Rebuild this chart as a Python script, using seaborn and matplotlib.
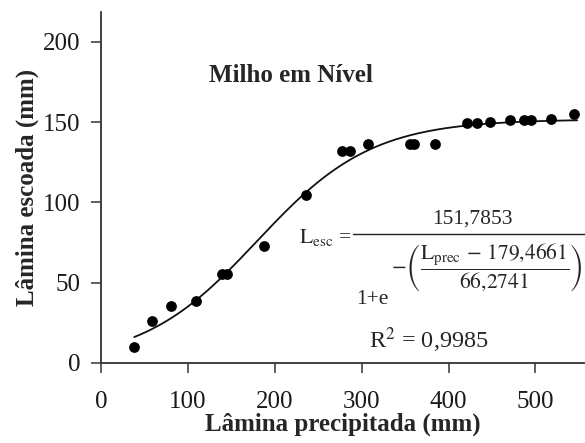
import numpy as np
import pandas as pd
import matplotlib
matplotlib.use("Agg")
import matplotlib.pyplot as plt
from matplotlib.lines import Line2D
import seaborn as sns

# Observed runoff (mm) versus precipitation (mm) for corn on level ground
lamina_precipitada = [38, 59, 80, 109, 139, 145, 188, 236, 277, 286, 307,
                      356, 360, 384, 421, 433, 448, 471, 487, 495, 518, 544]
lamina_escoada = [9.6, 26, 35.4, 38.6, 55.2, 55.2, 72.9, 104.8, 131.9, 132.3, 136.5,
                  136.5, 136.5, 136.6, 149.2, 149.2, 150.2, 151.3, 151.3, 151.3, 151.7, 155.2]

# Fitted logistic model parameters
a_max = 151.7853
x0 = 179.4661
escala = 66.2741
r2 = "0,9985"

x_ticks = [0, 100, 200, 300, 400, 500]
y_ticks = [0, 50, 100, 150, 200]

sns.set_theme(style="ticks")
plt.rcParams["font.family"] = ["Liberation Serif", "DejaVu Serif"]
plt.rcParams["mathtext.fontset"] = "stix"

fig = plt.figure(figsize=(5.85, 4.43), dpi=100)
ax = fig.add_axes([0.173, 0.181, 0.827, 0.793])

pts = pd.DataFrame({"prec": lamina_precipitada, "esc": lamina_escoada})
xc = np.linspace(min(lamina_precipitada), 548, 300)
curve = pd.DataFrame({"prec": xc, "esc": a_max / (1 + np.exp(-(xc - x0) / escala))})

sns.lineplot(data=curve, x="prec", y="esc", ax=ax, color="#111111", lw=1.3)
sns.scatterplot(data=pts, x="prec", y="esc", ax=ax, color="black", s=60,
                edgecolor="black", linewidth=0, zorder=3)

ax.set_xlim(0, 557)
ax.set_ylim(0, 219)
ax.set_xticks(x_ticks)
ax.set_yticks(y_ticks)
ax.tick_params(axis="both", labelsize=18, length=7, width=1.1, color="#333333",
               labelcolor="#1a1a1a")
ax.tick_params(axis="x", pad=13)
ax.tick_params(axis="y", pad=8)
for s in ["top", "right"]:
    ax.spines[s].set_visible(False)
for s in ["left", "bottom"]:
    ax.spines[s].set_color("#333333")
    ax.spines[s].set_linewidth(1.3)

ax.set_xlabel("Lâmina precipitada (mm)", fontsize=18, fontweight="bold", labelpad=0)
ax.set_ylabel("Lâmina escoada (mm)", fontsize=18, fontweight="bold", labelpad=3)


def fp(x, y):
    return x / 585, 1 - y / 443


fig.text(*fp(291, 76), "Milho em Nível", fontsize=18, fontweight="bold",
         ha="center", va="center")

# Equation of the fitted curve
fig.text(*fp(351, 238), r"$\mathrm{L_{esc}}$ =", fontsize=15.5, ha="right", va="center")
fig.add_artist(Line2D([353 / 585, 585 / 585], [1 - 234 / 443, 1 - 234 / 443],
                      transform=fig.transFigure, color="#222222", lw=1))
fig.text(*fp(472, 219), f"{a_max:.4f}".replace(".", ","), fontsize=15.5,
         ha="center", va="center")
fig.text(*fp(372, 300), "1+e", fontsize=15.5, ha="center", va="center")
expo = (r"$-\left(\dfrac{\mathrm{L_{prec}}\,-\,"
        + f"{x0:.4f}".replace(".", "{,}")
        + r"}{" + f"{escala:.4f}".replace(".", "{,}") + r"}\right)$")
fig.text(583 / 585, 1 - 268 / 443, expo, fontsize=15.5, ha="right", va="center")

fig.text(*fp(429, 340), r"R$^2$ = " + r2, fontsize=17.5, ha="center", va="center")

fig.savefig("out.png", dpi=100)
